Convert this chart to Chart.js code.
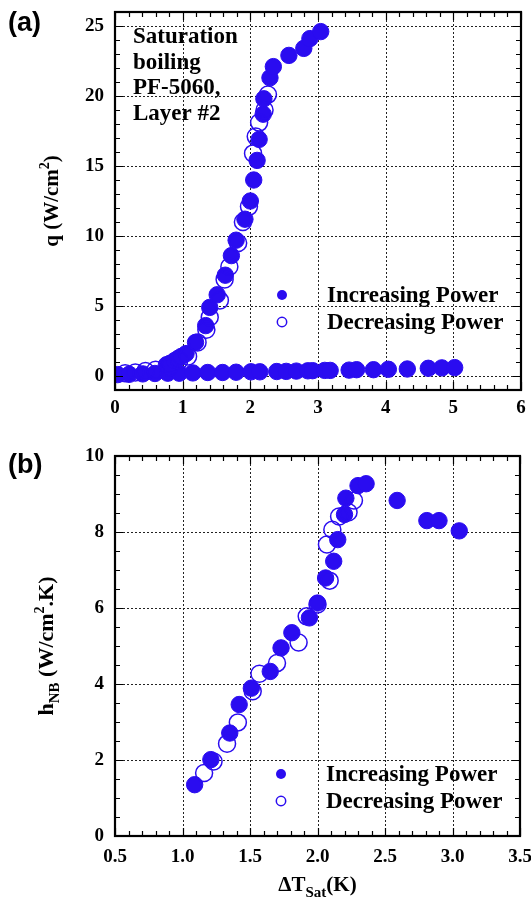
<!DOCTYPE html>
<html>
<head>
<meta charset="utf-8">
<script src="https://cdn.jsdelivr.net/npm/chart.js@4/dist/chart.umd.min.js"></script>
<style>
  body { margin: 0; background: #fff; }
  #wrap { position: relative; width: 531px; height: 907px; }
  canvas { position: absolute; left: 0; }
  #chartA { top: 0; }
  #chartB { top: 440px; }
</style>
</head>
<body>
<div id="wrap">
  <canvas id="chartA" width="531" height="440"></canvas>
  <canvas id="chartB" width="531" height="467"></canvas>
</div>
<script>
// panel (a): heat flux vs wall superheat
const xTicksA = [0, 1, 2, 3, 4, 5, 6];
const yTicksA = [0, 5, 10, 15, 20, 25];

const incDtA = [0.04, 0.21, 0.41, 0.59, 0.78, 0.95, 1.15, 1.37, 1.59, 1.79, 2.01, 2.14, 2.39, 2.53, 2.68, 2.85,
  2.92, 3.10, 3.18, 3.46, 3.57, 3.82, 4.04, 4.32, 4.63, 4.83, 5.02,
  0.76, 0.81, 0.88, 0.93, 0.98, 1.05, 1.19, 1.34, 1.40, 1.51, 1.63, 1.72, 1.79, 1.92, 2.00, 2.05, 2.10, 2.13,
  2.19, 2.20, 2.29, 2.34, 2.57, 2.79, 2.88, 3.04];
const incQA = [0.10, 0.12, 0.15, 0.18, 0.20, 0.20, 0.22, 0.25, 0.25, 0.27, 0.30, 0.30, 0.32, 0.33, 0.35, 0.37,
  0.38, 0.40, 0.40, 0.42, 0.45, 0.45, 0.48, 0.50, 0.55, 0.58, 0.60,
  0.8, 0.9, 1.1, 1.25, 1.4, 1.6, 2.4, 3.6, 4.9, 5.8, 7.2, 8.6, 9.7, 11.2, 12.5, 14.0, 15.4, 16.9,
  18.7, 19.8, 21.3, 22.1, 22.9, 23.4, 24.1, 24.6];

const decDtA = [0.15, 0.30, 0.45, 0.60, 0.80, 0.95, 1.08, 1.22, 1.35, 1.40, 1.55, 1.62, 1.69, 1.82, 1.89, 1.98,
  2.04, 2.08, 2.13, 2.21, 2.26];
const decQA = [0.20, 0.25, 0.35, 0.45, 0.60, 1.1, 1.4, 2.4, 3.3, 4.2, 5.4, 6.9, 7.8, 9.5, 11.0, 12.1,
  15.9, 17.1, 18.1, 19.0, 20.1];

// panel (b): heat transfer coefficient vs wall superheat
const xTicksB = [0.5, 1.0, 1.5, 2.0, 2.5, 3.0, 3.5];
const yTicksB = [0, 2, 4, 6, 8, 10];

const incDtB = [1.09, 1.21, 1.35, 1.42, 1.51, 1.65, 1.73, 1.81, 1.94, 2.00, 2.06, 2.12, 2.15, 2.20, 2.21, 2.30,
  2.36, 2.59, 2.81, 2.90, 3.05];
const incHB = [1.35, 2.01, 2.71, 3.46, 3.89, 4.33, 4.95, 5.35, 5.74, 6.13, 6.79, 7.23, 7.80, 8.46, 8.89, 9.22,
  9.27, 8.83, 8.30, 8.30, 8.03];

const decDtB = [1.16, 1.23, 1.33, 1.41, 1.52, 1.57, 1.70, 1.86, 1.92, 2.00, 2.09, 2.07, 2.11, 2.16, 2.23, 2.27];
const decHB = [1.66, 1.96, 2.43, 2.99, 3.81, 4.27, 4.55, 5.09, 5.78, 6.09, 6.72, 7.67, 8.06, 8.41, 8.52, 8.83];

const BLUE = '#2a0cf0';
const SERIF = 'Liberation Serif, Times New Roman, serif';

function pts(xs, ys) {
  return xs.map((x, i) => ({ x: x, y: ys[i] }));
}

function axis(min, max, ticks, fmt, isX, pad, size) {
  return {
    type: 'linear',
    min: min,
    max: max,
    afterBuildTicks: s => { s.ticks = ticks.map(v => ({ value: v })); },
    afterFit: s => {
      if (isX) s.height = size; else s.width = size;
      s.paddingLeft = 0; s.paddingRight = 0; s.paddingTop = 0; s.paddingBottom = 0;
    },
    grid: { display: false, drawTicks: false },
    border: { display: false },
    ticks: {
      padding: pad, color: '#000', autoSkip: false, maxRotation: 0,
      font: { family: SERIF, size: 19, weight: 'bold' },
      callback: fmt
    }
  };
}

function datasets(ix, iy, dx, dy) {
  return [
    { label: 'Decreasing Power', data: pts(dx, dy), pointRadius: 8.5, pointBorderWidth: 1.5,
      pointBackgroundColor: 'rgba(0,0,0,0)', pointBorderColor: BLUE, showLine: false },
    { label: 'Increasing Power', data: pts(ix, iy), pointRadius: 8.2, pointBorderWidth: 1,
      pointBackgroundColor: BLUE, pointBorderColor: BLUE, showLine: false }
  ];
}

// dotted grid at the labelled ticks, under the markers
function dottedGrid(chart) {
  const ctx = chart.ctx;
  const a = chart.chartArea;
  const xs = chart.scales.x, ys = chart.scales.y;
  ctx.save();
  ctx.strokeStyle = '#222';
  ctx.lineWidth = 1;
  ctx.setLineDash([2, 2]);
  ctx.beginPath();
  xs.ticks.forEach(t => {
    const px = Math.round(xs.getPixelForValue(t.value)) + 0.5;
    ctx.moveTo(px, a.top); ctx.lineTo(px, a.bottom);
  });
  ys.ticks.forEach(t => {
    const py = Math.round(ys.getPixelForValue(t.value)) + 0.5;
    ctx.moveTo(a.left, py); ctx.lineTo(a.right, py);
  });
  ctx.stroke();
  ctx.restore();
}

// draws text made of pieces with different sizes / offsets (sub/superscripts)
function richText(ctx, parts, x, y, rotate) {
  ctx.save();
  ctx.translate(x, y);
  if (rotate) ctx.rotate(-Math.PI / 2);
  ctx.fillStyle = '#000';
  ctx.textBaseline = 'alphabetic';
  ctx.textAlign = 'left';
  let total = 0;
  parts.forEach(p => {
    ctx.font = 'bold ' + p.s + 'px ' + SERIF;
    p.w = ctx.measureText(p.t).width;
    total += p.w;
  });
  let cx = -total / 2;
  parts.forEach(p => {
    ctx.font = 'bold ' + p.s + 'px ' + SERIF;
    ctx.fillText(p.t, cx, p.dy || 0);
    cx += p.w;
  });
  ctx.restore();
}

function frameTicks(chart, xMinor, yMinor) {
  const ctx = chart.ctx;
  const a = chart.chartArea;
  const xs = chart.scales.x, ys = chart.scales.y;
  ctx.save();
  ctx.strokeStyle = '#000';
  ctx.lineWidth = 1.2;
  ctx.beginPath();
  const nx = Math.round((xs.max - xs.min) / xMinor);
  for (let i = 0; i <= nx; i++) {
    const v = xs.min + i * xMinor;
    const px = Math.round(xs.getPixelForValue(v)) + 0.5;
    const major = xs.ticks.some(t => Math.abs(t.value - v) < 1e-6);
    const len = major ? 8 : 5;
    ctx.moveTo(px, a.bottom); ctx.lineTo(px, a.bottom - len);
    ctx.moveTo(px, a.top); ctx.lineTo(px, a.top + len);
  }
  const ny = Math.round((ys.max - ys.min) / yMinor);
  for (let i = 0; i <= ny; i++) {
    const v = ys.min + i * yMinor;
    const py = Math.round(ys.getPixelForValue(v)) + 0.5;
    const major = ys.ticks.some(t => Math.abs(t.value - v) < 1e-6);
    const len = major ? 8 : 5;
    ctx.moveTo(a.left, py); ctx.lineTo(a.left + len, py);
    ctx.moveTo(a.right, py); ctx.lineTo(a.right - len, py);
  }
  ctx.stroke();
  ctx.lineWidth = 2.2;
  ctx.strokeRect(a.left, a.top, a.right - a.left, a.bottom - a.top);
  ctx.restore();
}

function legend(ctx, mx, my, tx) {
  ctx.save();
  ctx.fillStyle = BLUE;
  ctx.beginPath(); ctx.arc(mx, my, 5, 0, Math.PI * 2); ctx.fill();
  ctx.strokeStyle = BLUE; ctx.lineWidth = 1.5;
  ctx.beginPath(); ctx.arc(mx, my + 27, 4.7, 0, Math.PI * 2); ctx.stroke();
  ctx.fillStyle = '#000';
  ctx.font = 'bold 23px ' + SERIF;
  ctx.textBaseline = 'middle';
  ctx.textAlign = 'left';
  ctx.fillText('Increasing Power', tx, my + 1);
  ctx.fillText('Decreasing Power', tx, my + 28);
  ctx.restore();
}

function panelLabel(ctx, t, x, y) {
  ctx.save();
  ctx.fillStyle = '#000';
  ctx.font = 'bold 27px Liberation Sans, Arial, sans-serif';
  ctx.textBaseline = 'alphabetic';
  ctx.fillText(t, x, y);
  ctx.restore();
}

new Chart(document.getElementById('chartA'), {
  type: 'scatter',
  data: { datasets: datasets(incDtA, incQA, decDtA, decQA) },
  options: {
    responsive: false, animation: false,
    layout: { padding: { left: 0, right: 9, top: 12, bottom: 0 } },
    plugins: { legend: { display: false }, tooltip: { enabled: false } },
    scales: {
      x: axis(0, 6, xTicksA, v => String(v), true, 7, 50),
      y: axis(-1, 26, yTicksA, v => String(v), false, 11, 115)
    }
  },
  plugins: [{
    id: 'decorA',
    beforeDatasetsDraw(chart) { dottedGrid(chart); },
    afterDraw(chart) {
      const ctx = chart.ctx;
      frameTicks(chart, 0.2, 1);
      legend(ctx, 282, 295, 327);
      panelLabel(ctx, '(a)', 8, 31);
      richText(ctx, [{ t: 'q (W/cm', s: 21 }, { t: '2', s: 14, dy: -9 }, { t: ')', s: 21 }],
        58, (chart.chartArea.top + chart.chartArea.bottom) / 2, true);
      ctx.save();
      ctx.fillStyle = '#000';
      ctx.font = 'bold 23px ' + SERIF;
      ['Saturation', 'boiling', 'PF-5060,', 'Layer #2'].forEach((s, i) => ctx.fillText(s, 133, 43 + i * 25.5));
      ctx.restore();
    }
  }]
});

new Chart(document.getElementById('chartB'), {
  type: 'scatter',
  data: { datasets: datasets(incDtB, incHB, decDtB, decHB) },
  options: {
    responsive: false, animation: false,
    layout: { padding: { left: 0, right: 11, top: 16, bottom: 0 } },
    plugins: { legend: { display: false }, tooltip: { enabled: false } },
    scales: {
      x: axis(0.5, 3.5, xTicksB, v => v.toFixed(1), true, 10, 71),
      y: axis(0, 10, yTicksB, v => String(v), false, 11, 115)
    }
  },
  plugins: [{
    id: 'decorB',
    beforeDatasetsDraw(chart) { dottedGrid(chart); },
    afterDraw(chart) {
      const ctx = chart.ctx;
      frameTicks(chart, 0.1, 0.5);
      legend(ctx, 281, 334, 326);
      panelLabel(ctx, '(b)', 8, 33);
      richText(ctx, [{ t: 'h', s: 22 }, { t: 'NB', s: 15, dy: 6 }, { t: ' (W/cm', s: 22 },
        { t: '2', s: 14, dy: -9 }, { t: '.K)', s: 22 }],
        53, (chart.chartArea.top + chart.chartArea.bottom) / 2, true);
      richText(ctx, [{ t: '\u0394T', s: 21 }, { t: 'Sat', s: 15, dy: 6 }, { t: '(K)', s: 21 }],
        (chart.chartArea.left + chart.chartArea.right) / 2, 451, false);
    }
  }]
});
</script>
</body>
</html>
